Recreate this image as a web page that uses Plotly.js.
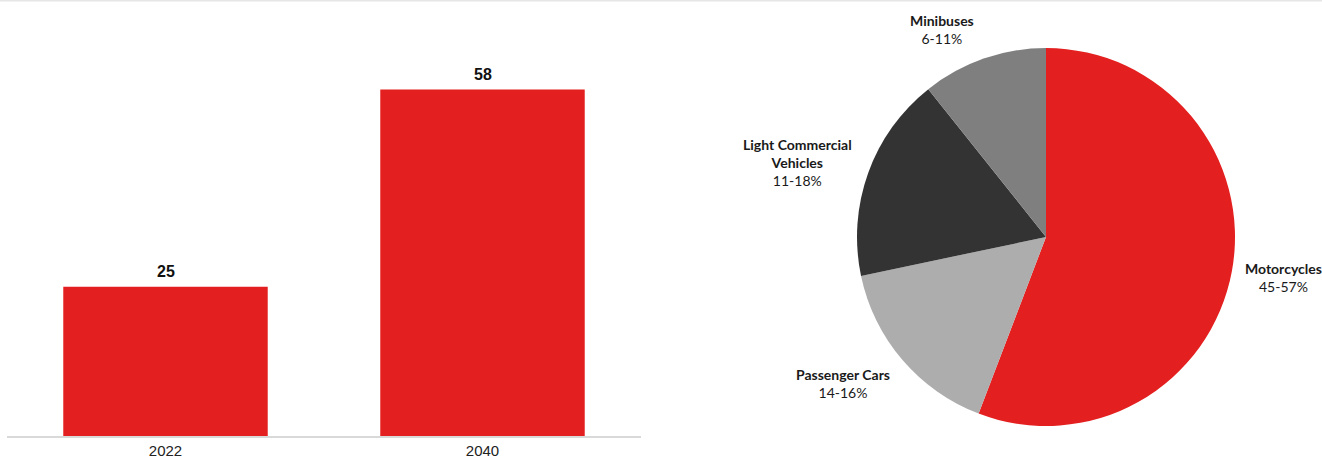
<!DOCTYPE html>
<html>
<head>
<meta charset="utf-8">
<script src="https://cdn.plot.ly/plotly-3.0.1.min.js"></script>
<style>
  html, body { margin: 0; padding: 0; background: #ffffff; }
  #chart { width: 1322px; height: 459px; }
</style>
</head>
<body>
<div id="chart"></div>
<script>
// ---- Data ----
const barCategories = ['2022', '2040'];
const barValues = [25, 58];

const pieLabels = ['Motorcycles', 'Passenger Cars', 'Light Commercial<br>Vehicles', 'Minibuses'];
const pieRanges = ['45-57%', '14-16%', '11-18%', '6-11%'];
const pieValues = [55.8, 15.9, 17.6, 10.7];

// ---- Styles / layout helpers ----
const W = 1322, H = 459;
const red = '#E41F1F';
const pieColors = [red, '#ADADAD', '#333333', '#7F7F7F'];
// pixel positions of pie label blocks (centre), converted to paper coords
const pieLabelPx = [[1283, 277], [843, 383], [797, 162], [942, 30]];
const px2x = x => x / W;
const px2y = y => 1 - y / H;

const barTrace = {
  type: 'bar',
  x: barCategories,
  y: barValues,
  marker: { color: red },
  xaxis: 'x', yaxis: 'y',
  hoverinfo: 'x+y'
};

const pieTrace = {
  type: 'pie',
  labels: pieLabels,
  values: pieValues,
  sort: false,
  direction: 'clockwise',
  rotation: 0,
  textinfo: 'none',
  marker: { colors: pieColors, line: { width: 0 } },
  domain: { x: [px2x(857), px2x(1235)], y: [px2y(426), px2y(48)] },
  showlegend: false
};

const annotations = [];
barCategories.forEach((c, i) => {
  annotations.push({
    x: i, y: barValues[i], xref: 'x', yref: 'y',
    text: '<b>' + barValues[i] + '</b>',
    showarrow: false, yanchor: 'bottom', yshift: 5,
    font: { family: 'Liberation Sans, Arial, sans-serif', size: 16, color: '#111111' }
  });
});
pieLabels.forEach((l, i) => {
  annotations.push({
    x: px2x(pieLabelPx[i][0]), y: px2y(pieLabelPx[i][1]), xref: 'paper', yref: 'paper',
    text: '<b>' + l + '</b><br>' + pieRanges[i],
    showarrow: false, xanchor: 'center', yanchor: 'middle', align: 'center',
    font: { family: 'Lato, Carlito, sans-serif', size: 14, color: '#1a1a1a' }
  });
});

const layout = {
  width: W, height: H,
  margin: { l: 0, r: 0, t: 0, b: 0 },
  paper_bgcolor: '#ffffff', plot_bgcolor: '#ffffff',
  showlegend: false,
  xaxis: {
    domain: [px2x(7), px2x(641)],
    type: 'category',
    categoryorder: 'array', categoryarray: barCategories,
    range: [-0.5, barCategories.length - 0.5], autorange: false,
    showline: true, linecolor: '#d9d9d9', linewidth: 2,
    showgrid: false, zeroline: false, ticks: '',
    tickfont: { family: 'Liberation Sans, Arial, sans-serif', size: 15, color: '#222222' },
    fixedrange: true
  },
  yaxis: {
    domain: [px2y(436), 1],
    range: [0, 73], autorange: false,
    visible: false, showgrid: false, zeroline: false,
    fixedrange: true
  },
  bargap: 0.355,
  annotations: annotations,
  shapes: [{
    type: 'line', xref: 'paper', yref: 'paper',
    x0: 0, x1: 1, y0: 1 - 0.5 / H, y1: 1 - 0.5 / H,
    line: { color: '#e6e6e6', width: 2 }
  }]
};

Plotly.newPlot('chart', [barTrace, pieTrace], layout, { displayModeBar: false, staticPlot: true });
</script>
</body>
</html>
